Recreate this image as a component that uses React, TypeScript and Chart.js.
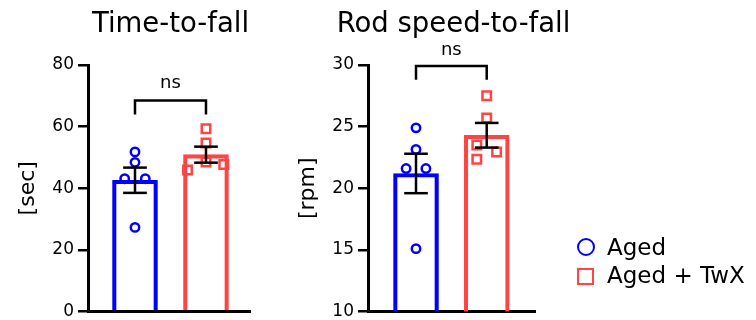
import React, { useEffect, useRef } from 'react';
import { Chart, registerables } from 'chart.js';

Chart.register(...registerables);

const FONT = "'DejaVu Sans', Verdana, sans-serif";
const BLUE = '#0000FF';
const RED = '#FF4444';

const groups = ['Aged', 'Aged + TwX'];

// Time-to-fall [sec]
const timeAged = [51.8, 48.4, 43.1, 43.1, 27.3];
const timeAgedJitter = [0, 0, -0.145, 0.145, 0];
const timeTwx = [59.3, 54.7, 48.5, 45.9, 47.7];
const timeTwxJitter = [0, 0, 0, -0.26, 0.25];
const timeMeans = [42.6, 50.9];
const timeSem = [4.1, 2.6];
const timeTicks = [0, 20, 40, 60, 80];
const timeBracket = [63.9, 68.5];
const timeNsLevel = 72.5;

// Rod speed-to-fall [rpm]
const rpmAged = [24.9, 23.15, 21.6, 21.6, 15.1];
const rpmAgedJitter = [0, 0, -0.14, 0.14, 0];
const rpmTwx = [27.5, 25.7, 23.5, 22.95, 22.35];
const rpmTwxJitter = [0, 0, -0.14, 0.14, -0.14];
const rpmMeans = [21.2, 24.3];
const rpmSem = [1.6, 1.0];
const rpmTicks = [10, 15, 20, 25, 30];
const rpmBracket = [28.8, 29.92];
const rpmNsLevel = 30.8;

const CAP = 0.167;

function nsPlugin(level: number) {
  return {
    id: 'nsLabel',
    afterDatasetsDraw(chart: any) {
      const { ctx, scales } = chart;
      ctx.save();
      ctx.font = `18px ${FONT}`;
      ctx.fillStyle = '#000';
      ctx.textAlign = 'center';
      ctx.textBaseline = 'alphabetic';
      ctx.fillText('ns', scales.x.getPixelForValue(0.5), scales.y.getPixelForValue(level));
      ctx.restore();
    },
  };
}

function buildConfig(p: {
  title: string;
  yTitle: string;
  means: number[];
  sems: number[];
  aged: number[];
  agedJ: number[];
  twx: number[];
  twxJ: number[];
  ticks: number[];
  bracket: number[];
  ns: number;
  xMin: number;
  xMax: number;
  spaceRight: number;
}) {
  const colors = [BLUE, RED];
  const datasets: any[] = [];
  const line = (data: any[]) => ({
    type: 'line',
    data,
    borderColor: '#000',
    borderWidth: 2.5,
    pointRadius: 0,
    order: 0,
    clip: false,
    borderCapStyle: 'butt',
    borderJoinStyle: 'miter',
  });
  p.means.forEach((m, i) => {
    const lo = m - p.sems[i];
    const hi = m + p.sems[i];
    datasets.push(line([{ x: i, y: lo }, { x: i, y: hi }]));
    datasets.push(line([{ x: i - CAP, y: hi }, { x: i + CAP, y: hi }]));
    datasets.push(line([{ x: i - CAP, y: lo }, { x: i + CAP, y: lo }]));
  });
  datasets.push(
    line([
      { x: 0, y: p.bracket[0] },
      { x: 0, y: p.bracket[1] },
      { x: 1, y: p.bracket[1] },
      { x: 1, y: p.bracket[0] },
    ])
  );
  datasets.push({
    type: 'scatter',
    label: groups[0],
    data: p.aged.map((v, k) => ({ x: 0 + p.agedJ[k], y: v })),
    pointStyle: 'circle',
    pointRadius: 4.2,
    borderWidth: 2.5,
    borderColor: BLUE,
    backgroundColor: 'rgba(0,0,0,0)',
    order: 1,
    clip: false,
  });
  datasets.push({
    type: 'scatter',
    label: groups[1],
    data: p.twx.map((v, k) => ({ x: 1 + p.twxJ[k], y: v })),
    pointStyle: 'rect',
    pointRadius: 6,
    borderWidth: 2.5,
    borderColor: RED,
    backgroundColor: 'rgba(0,0,0,0)',
    order: 1,
    clip: false,
  });
  datasets.push({
    type: 'bar',
    data: p.means.map((m, i) => ({ x: i, y: m })),
    backgroundColor: 'rgba(0,0,0,0)',
    borderColor: colors,
    borderWidth: 3.5,
    barThickness: 45,
    borderSkipped: 'start',
    order: 2,
  });

  const yMin = p.ticks[0];
  const yMax = p.ticks[p.ticks.length - 1];
  const step = p.ticks[1] - p.ticks[0];

  return {
    type: 'bar',
    data: { datasets },
    plugins: [nsPlugin(p.ns)],
    options: {
      animation: false,
      responsive: false,
      events: [],
      devicePixelRatio: 1,
      layout: { padding: { left: 0, right: 0, top: 0, bottom: 7 } },
      plugins: {
        legend: { display: false },
        tooltip: { enabled: false },
        title: {
          display: true,
          text: p.title,
          color: '#000',
          font: { size: 27.5, weight: 'normal', family: FONT },
          padding: { top: 8, bottom: 24 },
          fullSize: true,
        },
      },
      scales: {
        x: {
          type: 'linear',
          min: p.xMin,
          max: p.xMax,
          offset: false,
          ticks: { display: false },
          grid: { display: true, drawOnChartArea: false, drawTicks: false },
          border: { display: true, color: '#000', width: 3 },
          afterFit(scale: any) {
            scale.height = 0;
            scale.paddingLeft = 0;
            scale.paddingRight = 0;
          },
        },
        y: {
          type: 'linear',
          min: yMin,
          max: yMax,
          ticks: {
            stepSize: step,
            color: '#000',
            padding: 4,
            font: { size: 17, family: FONT },
          },
          grid: {
            display: true,
            drawOnChartArea: false,
            drawTicks: true,
            tickLength: 10,
            color: '#000',
            lineWidth: 2.5,
          },
          border: { display: true, color: '#000', width: 3 },
          title: {
            display: true,
            text: p.yTitle,
            color: '#000',
            font: { size: 22, family: FONT },
            padding: { top: 15, bottom: 0 },
          },
          afterFit(scale: any) {
            scale.width = 88;
            scale.paddingTop = 0;
            scale.paddingBottom = 0;
          },
        },
        spacer: {
          type: 'linear',
          position: 'right',
          display: true,
          ticks: { display: false },
          grid: { display: false, drawTicks: false },
          border: { display: false },
          afterFit(scale: any) {
            scale.width = p.spaceRight;
            scale.paddingTop = 0;
            scale.paddingBottom = 0;
          },
        },
      },
    },
  };
}

function ChartCanvas({ config, width, height, left }: any) {
  const ref = useRef<HTMLCanvasElement | null>(null);
  useEffect(() => {
    if (!ref.current) return;
    const chart = new Chart(ref.current, config as any);
    return () => chart.destroy();
  }, []);
  return (
    <canvas
      ref={ref}
      width={width}
      height={height}
      style={{ position: 'absolute', left, top: 0, width, height, display: 'block' }}
    />
  );
}

export default function App() {
  Chart.defaults.font.family = FONT;
  const leftCfg = buildConfig({
    title: 'Time-to-fall',
    yTitle: '[sec]',
    means: timeMeans,
    sems: timeSem,
    aged: timeAged,
    agedJ: timeAgedJitter,
    twx: timeTwx,
    twxJ: timeTwxJitter,
    ticks: timeTicks,
    bracket: timeBracket,
    ns: timeNsLevel,
    xMin: -0.662,
    xMax: 1.62,
    spaceRight: 91,
  });
  const rightCfg = buildConfig({
    title: 'Rod speed-to-fall',
    yTitle: '[rpm]',
    means: rpmMeans,
    sems: rpmSem,
    aged: rpmAged,
    agedJ: rpmAgedJitter,
    twx: rpmTwx,
    twxJ: rpmTwxJitter,
    ticks: rpmTicks,
    bracket: rpmBracket,
    ns: rpmNsLevel,
    xMin: -0.679,
    xMax: 1.683,
    spaceRight: 92,
  });
  const textStyle: React.CSSProperties = {
    position: 'absolute',
    left: 607,
    fontFamily: FONT,
    fontSize: 23,
    lineHeight: '23px',
    color: '#000',
    whiteSpace: 'nowrap',
  };
  return (
    <div
      style={{
        position: 'fixed',
        left: 0,
        top: 0,
        width: 756,
        height: 320,
        background: '#fff',
        overflow: 'hidden',
      }}
    >
      <ChartCanvas config={leftCfg} width={341} height={320} left={0} />
      <ChartCanvas config={rightCfg} width={347} height={320} left={280} />
      <div
        style={{
          position: 'absolute',
          left: 577,
          top: 238,
          width: 18,
          height: 18,
          border: `2.5px solid ${BLUE}`,
          borderRadius: '50%',
          boxSizing: 'border-box',
        }}
      />
      <div style={{ ...textStyle, top: 235.5 }}>{groups[0]}</div>
      <div
        style={{
          position: 'absolute',
          left: 577,
          top: 267.5,
          width: 17,
          height: 17,
          border: `2.5px solid ${RED}`,
          boxSizing: 'border-box',
        }}
      />
      <div style={{ ...textStyle, top: 264 }}>{groups[1]}</div>
    </div>
  );
}
